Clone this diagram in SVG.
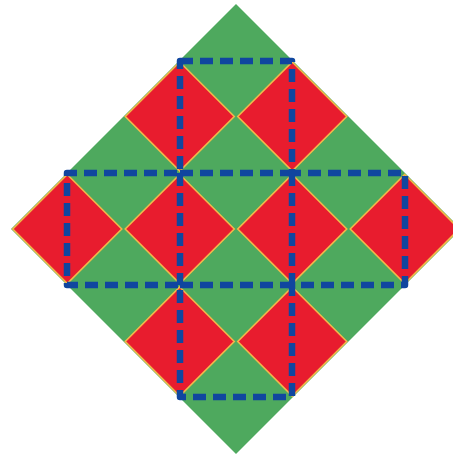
<svg xmlns="http://www.w3.org/2000/svg" width="453" height="456" viewBox="0 0 453 456">
<style>
.red{fill:#e81c2e;stroke:#f2b84a;stroke-width:1.6;stroke-linejoin:miter}
.blue{fill:none;stroke:#10469f;stroke-width:6.5;stroke-dasharray:13 7;stroke-linecap:butt;stroke-linejoin:round}
</style>
<defs>
<polygon id="rd" points="0,-54.5 54.5,0 0,54.5 -54.5,0"/>
</defs>
<rect width="453" height="456" fill="#ffffff"/>
<polygon id="bigDiamond" points="236,4 461,229 236,454 11,229" fill="#4ea95e"/>
<g id="reds">
<use href="#rd" class="red" x="179.75" y="116.5"/>
<use href="#rd" class="red" x="292.25" y="116.5"/>
<use href="#rd" class="red" x="67.25" y="229"/>
<use href="#rd" class="red" x="179.75" y="229"/>
<use href="#rd" class="red" x="292.25" y="229"/>
<use href="#rd" class="red" x="404.75" y="229"/>
<use href="#rd" class="red" x="179.75" y="341.5"/>
<use href="#rd" class="red" x="292.25" y="341.5"/>
</g>
<g id="grid">
<path class="blue" d="M180,61 H292 V173 H405 V285 H292 V397 H180 V285 H67 V173 H180 Z"/>
<path class="blue" d="M180,173 H292 M180,285 H292 M180,173 V285 M292,173 V285"/>
</g>
</svg>
